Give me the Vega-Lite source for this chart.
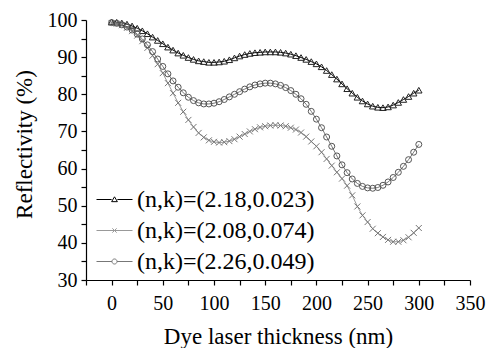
{
  "$schema": "https://vega.github.io/schema/vega-lite/v6.json",
  "autosize": "none",
  "width": 384,
  "height": 260,
  "padding": {"left": 86, "top": 20, "right": 22, "bottom": 68},
  "background": "white",
  "config": {
    "view": {"stroke": null},
    "font": "Liberation Serif",
    "axis": {"grid": false, "domainColor": "black", "tickColor": "black", "labelColor": "black", "titleColor": "black", "labelFont": "Liberation Serif", "titleFont": "Liberation Serif", "labelFontSize": 20, "titleFontSize": 23, "titleFontWeight": "normal", "tickSize": 5, "domainWidth": 1.2, "tickWidth": 1.2}
  },
  "data": {"values": [
{"s":"a","t":0,"r":99.5},{"s":"a","t":5,"r":99.4},{"s":"a","t":10,"r":99.2},{"s":"a","t":15,"r":98.9},{"s":"a","t":20,"r":98.4},{"s":"a","t":25,"r":97.8},{"s":"a","t":30,"r":97.1},{"s":"a","t":35,"r":96.3},{"s":"a","t":40,"r":95.4},{"s":"a","t":45,"r":94.5},{"s":"a","t":50,"r":93.6},{"s":"a","t":55,"r":92.7},{"s":"a","t":60,"r":91.9},{"s":"a","t":65,"r":91.1},{"s":"a","t":70,"r":90.5},{"s":"a","t":75,"r":89.9},{"s":"a","t":80,"r":89.4},{"s":"a","t":85,"r":89.0},{"s":"a","t":90,"r":88.8},{"s":"a","t":95,"r":88.6},{"s":"a","t":100,"r":88.6},{"s":"a","t":105,"r":88.7},{"s":"a","t":110,"r":88.9},{"s":"a","t":115,"r":89.3},{"s":"a","t":120,"r":89.8},{"s":"a","t":125,"r":90.3},{"s":"a","t":130,"r":90.7},{"s":"a","t":135,"r":91.0},{"s":"a","t":140,"r":91.2},{"s":"a","t":145,"r":91.3},{"s":"a","t":150,"r":91.4},{"s":"a","t":155,"r":91.4},{"s":"a","t":160,"r":91.4},{"s":"a","t":165,"r":91.3},{"s":"a","t":170,"r":91.1},{"s":"a","t":175,"r":90.8},{"s":"a","t":180,"r":90.4},{"s":"a","t":185,"r":89.9},{"s":"a","t":190,"r":89.4},{"s":"a","t":195,"r":88.8},{"s":"a","t":200,"r":88.2},{"s":"a","t":205,"r":87.4},{"s":"a","t":210,"r":86.4},{"s":"a","t":215,"r":85.3},{"s":"a","t":220,"r":84.1},{"s":"a","t":225,"r":82.8},{"s":"a","t":230,"r":81.5},{"s":"a","t":235,"r":80.3},{"s":"a","t":240,"r":79.2},{"s":"a","t":245,"r":78.2},{"s":"a","t":250,"r":77.4},{"s":"a","t":255,"r":76.8},{"s":"a","t":260,"r":76.5},{"s":"a","t":265,"r":76.4},{"s":"a","t":270,"r":76.6},{"s":"a","t":275,"r":77.1},{"s":"a","t":280,"r":77.8},{"s":"a","t":285,"r":78.6},{"s":"a","t":290,"r":79.4},{"s":"a","t":295,"r":80.3},{"s":"a","t":300,"r":81.1},
{"s":"b","t":0,"r":99.2},{"s":"b","t":5,"r":99.0},{"s":"b","t":10,"r":98.6},{"s":"b","t":15,"r":97.9},{"s":"b","t":20,"r":97.0},{"s":"b","t":25,"r":95.8},{"s":"b","t":30,"r":94.3},{"s":"b","t":35,"r":92.5},{"s":"b","t":40,"r":90.4},{"s":"b","t":45,"r":88.1},{"s":"b","t":50,"r":85.7},{"s":"b","t":55,"r":83.0},{"s":"b","t":60,"r":80.3},{"s":"b","t":65,"r":77.7},{"s":"b","t":70,"r":75.3},{"s":"b","t":75,"r":73.1},{"s":"b","t":80,"r":71.2},{"s":"b","t":85,"r":69.6},{"s":"b","t":90,"r":68.4},{"s":"b","t":95,"r":67.6},{"s":"b","t":100,"r":67.2},{"s":"b","t":105,"r":67.0},{"s":"b","t":110,"r":67.1},{"s":"b","t":115,"r":67.4},{"s":"b","t":120,"r":67.9},{"s":"b","t":125,"r":68.6},{"s":"b","t":130,"r":69.3},{"s":"b","t":135,"r":70.0},{"s":"b","t":140,"r":70.6},{"s":"b","t":145,"r":71.1},{"s":"b","t":150,"r":71.4},{"s":"b","t":155,"r":71.6},{"s":"b","t":160,"r":71.7},{"s":"b","t":165,"r":71.6},{"s":"b","t":170,"r":71.4},{"s":"b","t":175,"r":71.0},{"s":"b","t":180,"r":70.5},{"s":"b","t":185,"r":69.7},{"s":"b","t":190,"r":68.6},{"s":"b","t":195,"r":67.3},{"s":"b","t":200,"r":66.0},{"s":"b","t":205,"r":64.4},{"s":"b","t":210,"r":62.6},{"s":"b","t":215,"r":60.8},{"s":"b","t":220,"r":59.0},{"s":"b","t":225,"r":57.3},{"s":"b","t":230,"r":55.4},{"s":"b","t":235,"r":52.8},{"s":"b","t":240,"r":49.8},{"s":"b","t":245,"r":47.4},{"s":"b","t":250,"r":45.6},{"s":"b","t":255,"r":43.8},{"s":"b","t":260,"r":42.6},{"s":"b","t":265,"r":41.6},{"s":"b","t":270,"r":40.8},{"s":"b","t":275,"r":40.3},{"s":"b","t":280,"r":40.3},{"s":"b","t":285,"r":40.7},{"s":"b","t":290,"r":41.5},{"s":"b","t":295,"r":42.7},{"s":"b","t":300,"r":44.0},
{"s":"c","t":0,"r":99.3},{"s":"c","t":5,"r":99.1},{"s":"c","t":10,"r":98.7},{"s":"c","t":15,"r":98.1},{"s":"c","t":20,"r":97.3},{"s":"c","t":25,"r":96.2},{"s":"c","t":30,"r":94.9},{"s":"c","t":35,"r":93.3},{"s":"c","t":40,"r":91.5},{"s":"c","t":45,"r":89.5},{"s":"c","t":50,"r":87.5},{"s":"c","t":55,"r":85.5},{"s":"c","t":60,"r":83.6},{"s":"c","t":65,"r":81.9},{"s":"c","t":70,"r":80.4},{"s":"c","t":75,"r":79.2},{"s":"c","t":80,"r":78.3},{"s":"c","t":85,"r":77.7},{"s":"c","t":90,"r":77.4},{"s":"c","t":95,"r":77.4},{"s":"c","t":100,"r":77.6},{"s":"c","t":105,"r":78.0},{"s":"c","t":110,"r":78.6},{"s":"c","t":115,"r":79.3},{"s":"c","t":120,"r":80.0},{"s":"c","t":125,"r":80.7},{"s":"c","t":130,"r":81.4},{"s":"c","t":135,"r":82.0},{"s":"c","t":140,"r":82.5},{"s":"c","t":145,"r":82.8},{"s":"c","t":150,"r":83.0},{"s":"c","t":155,"r":83.0},{"s":"c","t":160,"r":82.8},{"s":"c","t":165,"r":82.4},{"s":"c","t":170,"r":81.8},{"s":"c","t":175,"r":81.0},{"s":"c","t":180,"r":80.0},{"s":"c","t":185,"r":78.8},{"s":"c","t":190,"r":77.3},{"s":"c","t":195,"r":75.4},{"s":"c","t":200,"r":73.3},{"s":"c","t":205,"r":71.0},{"s":"c","t":210,"r":68.5},{"s":"c","t":215,"r":66.0},{"s":"c","t":220,"r":63.4},{"s":"c","t":225,"r":61.0},{"s":"c","t":230,"r":58.9},{"s":"c","t":235,"r":57.2},{"s":"c","t":240,"r":56.0},{"s":"c","t":245,"r":55.2},{"s":"c","t":250,"r":54.8},{"s":"c","t":255,"r":54.7},{"s":"c","t":260,"r":54.9},{"s":"c","t":265,"r":55.5},{"s":"c","t":270,"r":56.4},{"s":"c","t":275,"r":57.6},{"s":"c","t":280,"r":59.0},{"s":"c","t":285,"r":60.6},{"s":"c","t":290,"r":62.4},{"s":"c","t":295,"r":64.4},{"s":"c","t":300,"r":66.5}
  ]},
  "encoding": {
    "x": {"field": "t", "type": "quantitative", "scale": {"domain": [-25, 350], "nice": false, "zero": false},
      "axis": {"title": "Dye laser thickness (nm)", "values": [-25,0,25,50,75,100,125,150,175,200,225,250,275,300,325,350], "labelExpr": "datum.value % 50 === 0 ? datum.label : ''", "labelPadding": 8, "titlePadding": 12, "labelFlush": false}},
    "y": {"field": "r", "type": "quantitative", "scale": {"domain": [30, 100], "nice": false, "zero": false},
      "axis": {"title": "Reflectivity (%)", "values": [30,35,40,45,50,55,60,65,70,75,80,85,90,95,100], "labelExpr": "datum.value % 10 === 0 ? datum.label : ''", "labelPadding": 4, "titleX": -50, "titleY": 124, "labelFlush": false}}
  },
  "layer": [
    {"mark": {"type": "line", "strokeWidth": 1},
     "encoding": {"color": {"field": "s", "type": "nominal",
        "scale": {"domain": ["a","b","c"], "range": ["#000000", "#999999", "#777777"]},
        "legend": {"orient": "none", "legendX": 10, "legendY": 161, "title": null, "labelLimit": 0,
          "labelExpr": "datum.value === 'a' ? '(n,k)=(2.18,0.023)' : datum.value === 'b' ? '(n,k)=(2.08,0.074)' : '(n,k)=(2.26,0.049)'",
          "labelFont": "Liberation Serif", "labelFontSize": 24, "labelColor": "black", "symbolSize": 1296, "symbolStrokeWidth": 1, "labelOffset": 4, "rowPadding": -8,
          "encode": {"symbols": {"update": {
            "shape": {"signal": "datum.value === 'a' ? 'M-1,0H-0.16M0.16,0H1M0,-0.15L0.16,0.12L-0.16,0.12Z' : datum.value === 'b' ? 'M-1,0H1M-0.12,-0.12L0.12,0.12M-0.12,0.12L0.12,-0.12' : 'M-1,0H-0.14M0.14,0H1M0.14,0A0.14,0.14 0 1 1 -0.14,0A0.14,0.14 0 1 1 0.14,0'"},
            "fill": {"value": "transparent"}}}}}}}},
    {"transform": [{"filter": "datum.s === 'a'"}],
     "mark": {"type": "point", "filled": false, "strokeWidth": 1, "opacity": 1, "shape": "triangle-up", "stroke": "#222222", "size": 42}},
    {"transform": [{"filter": "datum.s === 'b'"}],
     "mark": {"type": "point", "filled": false, "strokeWidth": 1, "opacity": 1, "shape": "M-1,-1L1,1M-1,1L1,-1", "stroke": "#777777", "size": 36}},
    {"transform": [{"filter": "datum.s === 'c'"}],
     "mark": {"type": "point", "filled": false, "strokeWidth": 1, "opacity": 1, "shape": "circle", "stroke": "#555555", "size": 36}}
  ]
}
